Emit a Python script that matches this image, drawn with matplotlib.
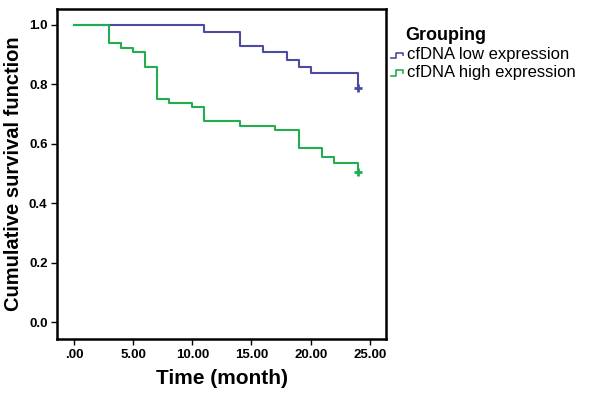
import matplotlib
matplotlib.use("Agg")
from matplotlib import pyplot as plt
from matplotlib.lines import Line2D

plt.rcParams["font.family"] = ["Liberation Sans", "DejaVu Sans"]

# Kaplan-Meier steps
low_t = [0, 11, 14, 16, 18, 19, 20, 24]
low_s = [1.0, 0.975, 0.930, 0.908, 0.882, 0.860, 0.838, 0.789]
high_t = [0, 3, 4, 5, 6, 7, 8, 10, 11, 14, 17, 19, 21, 22, 24]
high_s = [1.0, 0.938, 0.922, 0.908, 0.860, 0.752, 0.739, 0.723, 0.678,
          0.661, 0.647, 0.585, 0.557, 0.537, 0.505]
censor_t = 24

groups = ["cfDNA low expression", "cfDNA high expression"]
colors = ["#4b4ba3", "#22ad4e"]
xticks = [0, 5, 10, 15, 20, 25]
xticklabels = [".00", "5.00", "10.00", "15.00", "20.00", "25.00"]
yticks = [0.0, 0.2, 0.4, 0.6, 0.8, 1.0]

fig = plt.figure(figsize=(6, 3.94), dpi=100)
ax = fig.add_axes([0.0955, 0.140, 0.5475, 0.836])

for t, s, c in [(low_t, low_s, colors[0]), (high_t, high_s, colors[1])]:
    ax.step(t, s, where="post", color=c, lw=1.5)
    ax.plot([censor_t], [s[-1]], marker="+", ms=6, mew=2, color=c)

ax.set_xlim(-1.41, 26.35)
ax.set_ylim(-0.056, 1.052)
ax.set_xticks(xticks)
ax.set_xticklabels(xticklabels, fontsize=9.5, fontweight="bold")
ax.set_yticks(yticks)
ax.set_yticklabels([f"{v:.1f}" for v in yticks], fontsize=9.5, fontweight="bold")
ax.tick_params(length=4, width=1, color="black", pad=3)
for sp in ax.spines.values():
    sp.set_linewidth(1.8)

ax.set_xlabel("Time (month)", fontsize=15, fontweight="bold", labelpad=6)
ax.set_ylabel("Cumulative survival function", fontsize=14.5, fontweight="bold", labelpad=4)

# legend drawn by hand to match the step glyphs
fig.text(405 / 600, 1 - 35 / 394, "Grouping", fontsize=13, fontweight="bold", va="center")
for i, (g, c) in enumerate(zip(groups, colors)):
    y = 1 - (55 + 18 * i) / 394
    x0 = 391 / 600
    w = 12 / 600
    h = 2.5 / 394
    fig.add_artist(Line2D([x0, x0 + w * 0.4, x0 + w * 0.4, x0 + w, x0 + w],
                          [y - h, y - h, y + h, y + h, y],
                          color=c, lw=1.2, transform=fig.transFigure))
    fig.text(407 / 600, y, g, fontsize=12, va="center")

fig.savefig("out.png", dpi=100)
